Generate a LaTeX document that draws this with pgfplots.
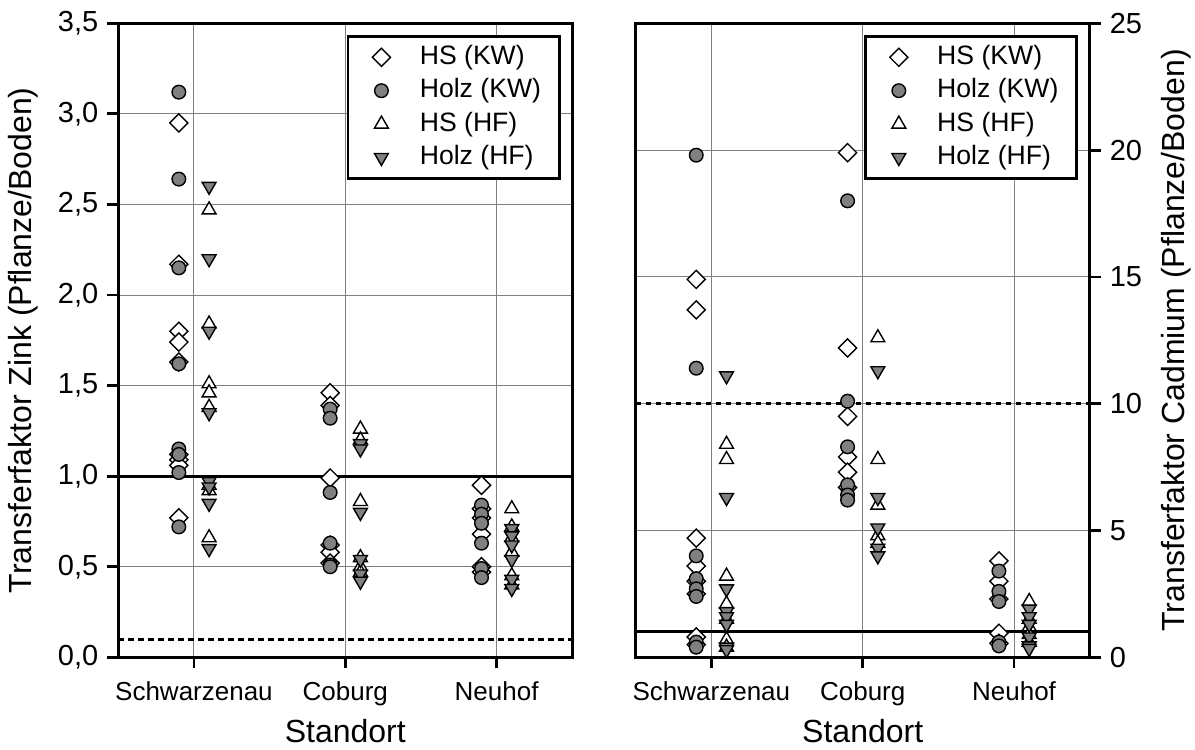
\documentclass[border=0pt]{standalone}
\usepackage{fontspec}
\setmainfont{Liberation Sans}
\usepackage{pgfplots}
\pgfplotsset{compat=1.18}
\definecolor{fillgray}{RGB}{128,128,128}
\definecolor{gridgray}{RGB}{128,128,128}
\pgfplotsset{
  panel/.style={
    scale only axis, width=227pt, height=317pt,
    xmin=0.5, xmax=3.5,
    xtick={1,2,3}, xticklabels={Schwarzenau,Coburg,Neuhof},
    grid=major, major grid style={gridgray, line width=0.5pt},
    axis line style={line width=1.4pt},
    every tick/.style={black, line width=1.4pt},
    tick align=outside, major tick length=5.5pt,
    xtick pos=bottom,
    xticklabel shift=3pt, yticklabel shift=1pt,
    /pgf/number format/assume math mode=true,
    xticklabel style={font=\fontsize{13}{15}\selectfont},
    yticklabel style={font=\fontsize{14.5}{16}\selectfont},
    xlabel={Standort},
    label style={font=\fontsize{16}{19}\selectfont},
    legend cell align=left,
    legend style={at={(1,1)}, anchor=north east, xshift=-5.85pt, yshift=-5.85pt,
      draw=black, line width=1.4pt, font=\fontsize{13.3}{16}\selectfont,
      inner xsep=7pt, inner ysep=2.1pt, column sep=10.4pt,
      nodes={inner sep=2.1pt, text height=9.7pt, text depth=2.8pt}},
  },
  limg/.style={legend image code/.code={\path (0pt,0pt) (15pt,0pt); \draw[##1] plot coordinates {(9pt,0pt)};}},
  hskw/.style={only marks, mark=square*, mark size=3.2pt, mark options={rotate=45, fill=white, draw=black, line width=0.7pt}, limg},
  holzkw/.style={only marks, mark=*, mark size=3.4pt, mark options={fill=fillgray, draw=black, line width=0.7pt}, limg},
  hshf/.style={only marks, mark=triangle*, mark size=4pt, mark options={fill=white, draw=black, line width=0.7pt}, limg},
  holzhf/.style={only marks, mark=triangle*, mark size=4pt, mark options={rotate=180, fill=fillgray, draw=black, line width=0.7pt}, limg},
  reflineSolid/.style={black, line width=1.5pt, forget plot},
  reflineDash/.style={black, line width=1.5pt, dash pattern=on 2.8pt off 2.2pt, forget plot},
}
\begin{document}
\begin{tikzpicture}
\begin{axis}[panel, name=L,
  ymin=0, ymax=3.5, ytick={0,0.5,1,1.5,2,2.5,3,3.5},
  ytick pos=left,
  yticklabel style={/pgf/number format/.cd, fixed, fixed zerofill, precision=1, use comma},
  ylabel={Transferfaktor Zink (Pflanze/Boden)},
  ylabel style={at={([xshift=-40pt]axis description cs:0,0.5)}, rotate=0, anchor=south, inner sep=0pt},
]
\addplot[reflineSolid] coordinates {(0.5,1) (3.5,1)};
\addplot[reflineDash] coordinates {(0.5,0.1) (3.5,0.1)};
\addplot[hskw] coordinates {
(0.9,2.95) (0.9,2.17) (0.9,1.80) (0.9,1.74) (0.9,1.63) (0.9,1.12) (0.9,1.09) (0.9,1.06) (0.9,0.77)
(1.9,1.46) (1.9,1.39) (1.9,0.99) (1.9,0.62) (1.9,0.58) (1.9,0.52)
(2.9,0.95) (2.9,0.82) (2.9,0.77) (2.9,0.68) (2.9,0.50) (2.9,0.47)};
\addlegendentry{HS (KW)}
\addplot[holzkw] coordinates {
(0.9,3.12) (0.9,2.64) (0.9,2.15) (0.9,1.62) (0.9,1.15) (0.9,1.12) (0.9,1.02) (0.9,0.72)
(1.9,1.37) (1.9,1.32) (1.9,0.91) (1.9,0.63) (1.9,0.51) (1.9,0.50)
(2.9,0.84) (2.9,0.79) (2.9,0.74) (2.9,0.63) (2.9,0.49) (2.9,0.44)};
\addlegendentry{Holz (KW)}
\addplot[hshf] coordinates {
(1.1,2.47) (1.1,1.84) (1.1,1.51) (1.1,1.46) (1.1,1.38) (1.1,0.95) (1.1,0.92) (1.1,0.66)
(2.1,1.26) (2.1,1.20) (2.1,0.86) (2.1,0.55) (2.1,0.50) (2.1,0.47)
(3.1,0.82) (3.1,0.72) (3.1,0.66) (3.1,0.58) (3.1,0.45) (3.1,0.40)};
\addlegendentry{HS (HF)}
\addplot[holzhf] coordinates {
(1.1,2.60) (1.1,2.20) (1.1,1.80) (1.1,1.35) (1.1,0.97) (1.1,0.94) (1.1,0.85) (1.1,0.60)
(2.1,1.18) (2.1,1.15) (2.1,0.80) (2.1,0.54) (2.1,0.46) (2.1,0.42)
(3.1,0.71) (3.1,0.67) (3.1,0.62) (3.1,0.54) (3.1,0.43) (3.1,0.38)};
\addlegendentry{Holz (HF)}
\end{axis}
\begin{axis}[panel, name=R, at={(258.7pt,0)},
  ymin=0, ymax=25, ytick={0,5,10,15,20,25},
  ytick pos=right, yticklabel pos=right,
  ylabel={Transferfaktor Cadmium (Pflanze/Boden)},
  ylabel style={at={([xshift=35.6pt]axis description cs:1,0.5)}, rotate=0, anchor=north, inner sep=0pt},
]
\addplot[reflineSolid] coordinates {(0.5,1) (3.5,1)};
\addplot[reflineDash] coordinates {(0.5,10) (3.5,10)};
\addplot[hskw] coordinates {
(0.9,14.9) (0.9,13.7) (0.9,4.7) (0.9,3.6) (0.9,3.0) (0.9,2.5) (0.9,0.8) (0.9,0.5)
(1.9,19.9) (1.9,12.2) (1.9,9.5) (1.9,7.9) (1.9,7.3) (1.9,6.7)
(2.9,3.8) (2.9,3.0) (2.9,2.3) (2.9,0.95) (2.9,0.55)};
\addlegendentry{HS (KW)}
\addplot[holzkw] coordinates {
(0.9,19.8) (0.9,11.4) (0.9,4.0) (0.9,3.1) (0.9,2.7) (0.9,2.4) (0.9,0.6) (0.9,0.4)
(1.9,18.0) (1.9,10.1) (1.9,8.3) (1.9,6.8) (1.9,6.4) (1.9,6.2)
(2.9,3.4) (2.9,2.6) (2.9,2.2) (2.9,0.6) (2.9,0.45)};
\addlegendentry{Holz (KW)}
\addplot[hshf] coordinates {
(1.1,8.4) (1.1,7.8) (1.1,3.2) (1.1,2.1) (1.1,1.5) (1.1,0.7) (1.1,0.4)
(2.1,12.6) (2.1,7.8) (2.1,6.0) (2.1,4.8) (2.1,4.5)
(3.1,2.2) (3.1,1.5) (3.1,1.2) (3.1,0.9) (3.1,0.6)};
\addlegendentry{HS (HF)}
\addplot[holzhf] coordinates {
(1.1,11.1) (1.1,6.3) (1.1,2.7) (1.1,1.8) (1.1,1.6) (1.1,1.3) (1.1,0.4) (1.1,0.3)
(2.1,11.3) (2.1,6.3) (2.1,5.1) (2.1,4.3) (2.1,4.0)
(3.1,1.9) (3.1,1.6) (3.1,1.3) (3.1,0.8) (3.1,0.45) (3.1,0.35)};
\addlegendentry{Holz (HF)}
\end{axis}
\path ([xshift=-59.15pt,yshift=-44.5pt]L.south west) ([xshift=52.65pt,yshift=11.65pt]R.north east);
\end{tikzpicture}
\end{document}
